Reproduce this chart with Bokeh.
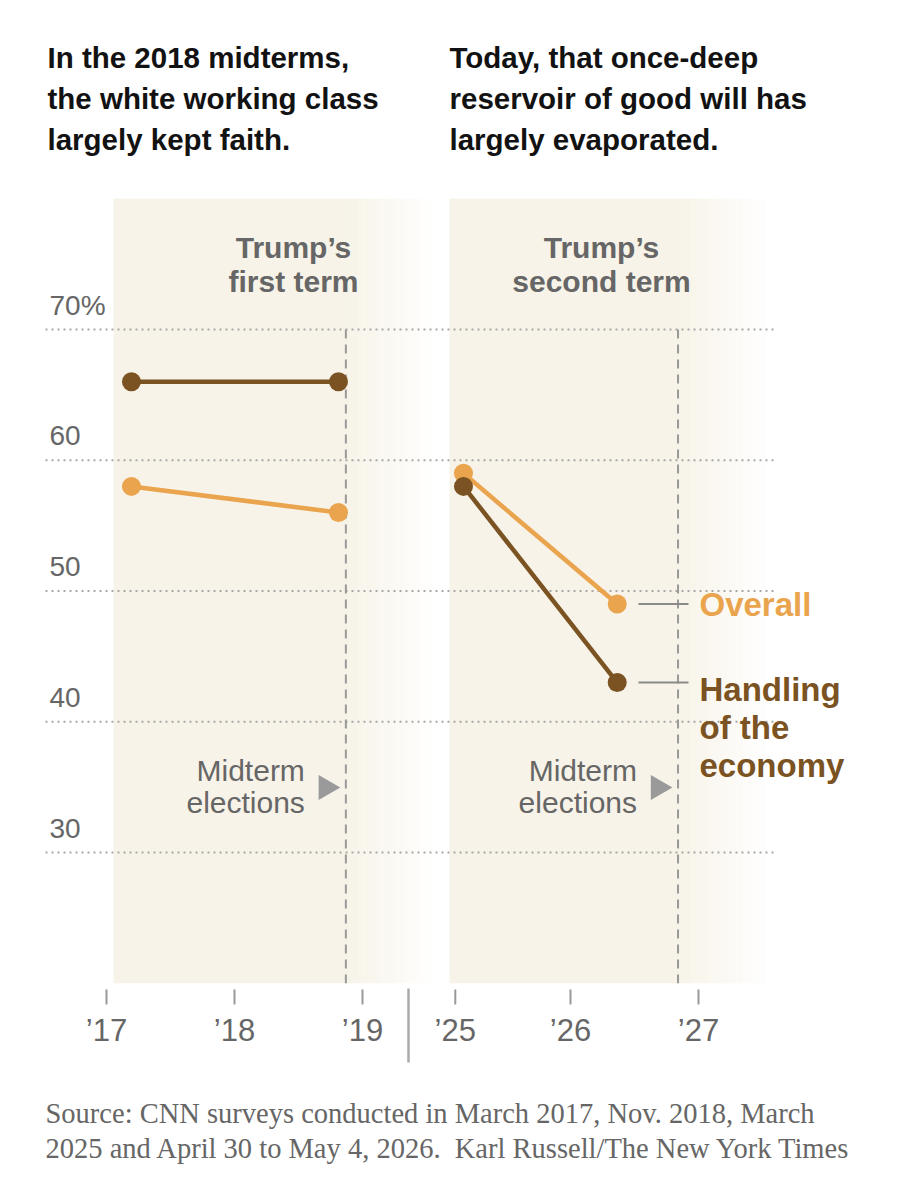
import numpy as np
from bokeh.plotting import figure
from bokeh.models import Range1d
from bokeh.core.properties import value
from bokeh.embed import file_html
from bokeh.resources import INLINE

# ---------------- data ----------------
SURVEY_DATES_1 = [2017.195, 2018.8125]   # March 2017, Nov. 2018
SURVEY_DATES_2 = [2025.164, 2026.365]    # March 2025, Apr 30 - May 4 2026
OVERALL_1 = [58, 56]
ECONOMY_1 = [66, 66]
OVERALL_2 = [59, 49]
ECONOMY_2 = [58, 43]
TERM_STARTS = [2017.055, 2025.055]
MIDTERMS = [2018.87, 2026.84]
Y_TICKS = [30, 40, 50, 60, 70]
Y_TICK_LABELS = ["30", "40", "50", "60", "70%"]
X_TICKS_1 = [2017, 2018, 2019]
X_TICKS_2 = [2025.1, 2026, 2027]
X_TICK_LABELS_1 = ["\u201917", "\u201918", "\u201919"]
X_TICK_LABELS_2 = ["\u201925", "\u201926", "\u201927"]
Y_MIN, Y_MAX = 20, 80
TITLE_1 = ["In the 2018 midterms,", "the white working class", "largely kept faith."]
TITLE_2 = ["Today, that once-deep", "reservoir of good will has", "largely evaporated."]
TERM_LABELS = [["Trump\u2019s", "first term"], ["Trump\u2019s", "second term"]]
SOURCE = ["Source: CNN surveys conducted in March 2017, Nov. 2018, March",
          "2025 and April 30 to May 4, 2026.\u00a0 Karl Russell/The New York Times"]

# ---------------- layout constants ----------------
W, H = 885, 1184
PX_PER_YEAR = 128.0
PX_2017 = 106.0          # px of the '17 tick
PX_PER_PT = 13.075
PY_70 = 329.0            # px of the 70% line
PANEL2_SHIFT = 5.375     # years removed from panel 2 so it sits next to panel 1
FADE = 0.71              # years of fade after each midterm
BL = 0.37                # baseline correction (fraction of font size)

ORANGE = "#E9A44D"
BROWN = "#7B5322"
SHADE = "#F7F3E8"
GRAY_TXT = "#666666"
SANS = value("Liberation Sans")
SERIF = value("Liberation Serif")


def X(px):
    return 2017 + (px - PX_2017) / PX_PER_YEAR


def Y(py, size=0.0):
    return 70 - (py - BL * size - PY_70) / PX_PER_PT


x0 = X(0)
y1 = Y(0)
p = figure(width=W, height=H, x_range=Range1d(x0, x0 + W / PX_PER_YEAR),
           y_range=Range1d(y1 - H / PX_PER_PT, y1),
           x_axis_type=None, y_axis_type=None,
           toolbar_location=None, output_backend="svg",
           min_border=0, min_border_left=0, min_border_right=0,
           min_border_top=0, min_border_bottom=0,
           outline_line_color=None, background_fill_color="white",
           border_fill_color="white")
p.grid.visible = False

shifts = [0.0, PANEL2_SHIFT]

# background shading with fade
for s, m, sh in zip(TERM_STARTS, MIDTERMS, shifts):
    p.quad(left=s - sh, right=m - sh, bottom=Y_MIN, top=Y_MAX,
           fill_color=SHADE, line_color=None)
    n = 30
    edges = np.linspace(m - sh, m - sh + FADE, n + 1)
    alphas = 1 - (np.arange(n) + 0.5) / n
    p.quad(left=edges[:-1], right=edges[1:] + 0.002, bottom=Y_MIN, top=Y_MAX,
           fill_color=SHADE, fill_alpha=alphas, line_color=None)

# gridlines
p.segment(x0=[X(45)] * len(Y_TICKS), x1=[X(775)] * len(Y_TICKS), y0=Y_TICKS, y1=Y_TICKS,
          line_color="#A8A8A8", line_width=2, line_dash="2 4")
p.text(x=[X(49)] * len(Y_TICKS), y=Y_TICKS, text=Y_TICK_LABELS,
       y_offset=-14 - BL * 28,
       text_font=SANS, text_font_size="28px", text_color=GRAY_TXT,
       text_baseline="alphabetic", text_align="left")

# midterm dashed lines
mid_x = [m - sh for m, sh in zip(MIDTERMS, shifts)]
p.segment(x0=mid_x, x1=mid_x, y0=[70, 70], y1=[Y_MIN, Y_MIN],
          line_color="#999999", line_width=2, line_dash="9 6")

# Midterm labels + triangles
p.text(x=mid_x, y=[Y(781, 30)] * 2, text=["Midterm"] * 2, x_offset=-41,
       text_font=SANS, text_font_size="30px", text_color=GRAY_TXT,
       text_align="right", text_baseline="alphabetic")
p.text(x=mid_x, y=[Y(813, 30)] * 2, text=["elections"] * 2, x_offset=-41,
       text_font=SANS, text_font_size="30px", text_color=GRAY_TXT,
       text_align="right", text_baseline="alphabetic")
p.scatter(x=[m - 20 / PX_PER_YEAR for m in mid_x], y=[Y(787)] * 2, marker="triangle",
          size=25, angle=-np.pi / 2, fill_color="#9A9A9A", line_color=None)

# term labels
term_centers = [X(293), X(601)]
for cx, lines in zip(term_centers, TERM_LABELS):
    p.text(x=[cx, cx], y=[Y(258, 30), Y(292, 30)], text=lines,
           text_font=SANS, text_font_style="bold", text_font_size="30px",
           text_color=GRAY_TXT, text_align="center", text_baseline="alphabetic")

# data lines
xs1 = SURVEY_DATES_1
xs2 = [d - PANEL2_SHIFT for d in SURVEY_DATES_2]
for xs, ov, ec in [(xs1, OVERALL_1, ECONOMY_1), (xs2, OVERALL_2, ECONOMY_2)]:
    p.line(xs, ov, line_color=ORANGE, line_width=4.5)
    p.scatter(xs, ov, size=19, fill_color=ORANGE, line_color=None)
    p.line(xs, ec, line_color=BROWN, line_width=4.5)
    p.scatter(xs, ec, size=19, fill_color=BROWN, line_color=None)

# leader lines and series labels
ends = [OVERALL_2[-1], ECONOMY_2[-1]]
p.segment(x0=[X(638)] * 2, x1=[X(688)] * 2, y0=ends, y1=ends,
          line_color="#8A8A8A", line_width=2)
p.text(x=[X(699)], y=[OVERALL_2[-1]], text=["Overall"], y_offset=13 - BL * 33,
       text_font=SANS, text_font_style="bold", text_font_size="33px",
       text_color=ORANGE, text_baseline="alphabetic")
for line, off in zip(["Handling", "of the", "economy"], [19, 57, 95]):
    p.text(x=[X(699)], y=[ECONOMY_2[-1]], text=[line], y_offset=off - BL * 33,
           text_font=SANS, text_font_style="bold", text_font_size="33px",
           text_color=BROWN, text_baseline="alphabetic")

# titles
for tx, lines in zip([X(47), X(449)], [TITLE_1, TITLE_2]):
    p.text(x=[tx] * 3, y=[Y(68, 29.5), Y(109, 29.5), Y(150, 29.5)], text=lines,
           text_font=SANS, text_font_style="bold", text_font_size="29.5px",
           text_color="#121212", text_baseline="alphabetic", text_align="left")

# x axis ticks and labels
xt = X_TICKS_1 + [t - PANEL2_SHIFT for t in X_TICKS_2]
p.segment(x0=xt, x1=xt, y0=[Y(989)] * len(xt), y1=[Y(1004)] * len(xt),
          line_color="#999999", line_width=2)
p.text(x=xt, y=[Y(1041, 31)] * len(xt), text=X_TICK_LABELS_1 + X_TICK_LABELS_2,
       text_font=SANS, text_font_size="31px", text_color=GRAY_TXT,
       text_align="center", text_baseline="alphabetic")
p.segment(x0=[X(408)], x1=[X(408)], y0=[Y(988)], y1=[Y(1062)],
          line_color="#AAAAAA", line_width=2.5)

# source
p.text(x=[X(45)] * 2, y=[Y(1124, 28.5), Y(1159, 28.5)], text=SOURCE,
       text_font=SERIF, text_font_size="28.5px", text_color=GRAY_TXT,
       text_baseline="alphabetic", text_align="left")

open("out.html", "w").write(file_html(p, INLINE))
